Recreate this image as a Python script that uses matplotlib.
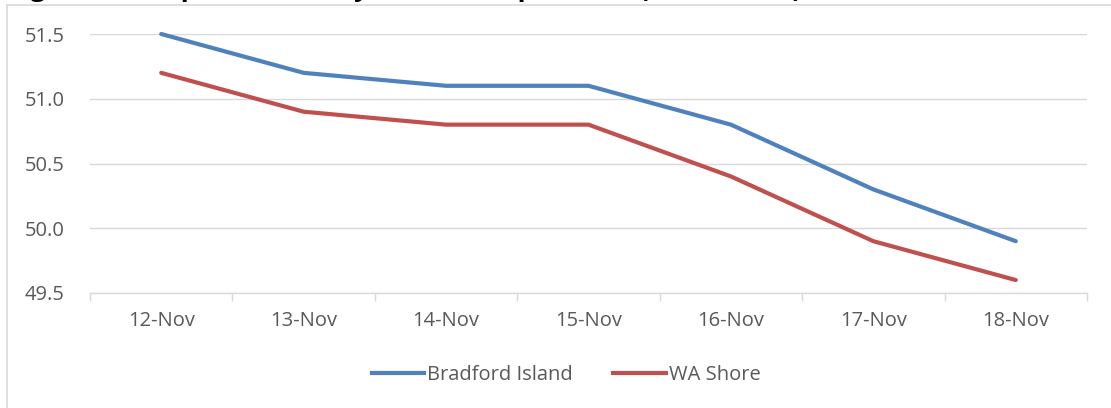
import matplotlib
matplotlib.use("Agg")
import matplotlib.pyplot as plt
from matplotlib.lines import Line2D

categories = ["12-Nov", "13-Nov", "14-Nov", "15-Nov", "16-Nov", "17-Nov", "18-Nov"]
bradford = [51.5, 51.2, 51.1, 51.1, 50.8, 50.3, 49.9]
wa_shore = [51.2, 50.9, 50.8, 50.8, 50.4, 49.9, 49.6]
series_names = ["Bradford Island", "WA Shore"]
yticks = [49.5, 50.0, 50.5, 51.0, 51.5]
title = "Figure 5: Temperature Daily Water Temperature (Fahrenheit)"

W, H = 1111, 408
fig = plt.figure(figsize=(W / 100, H / 100), dpi=100)
fnt = "Open Sans"
txtc = "#595959"
gridc = "#D9D9D9"

ax = fig.add_axes([90 / W, 1 - 293 / H, (1087 - 90) / W, (293 - 34) / H])
x = list(range(len(categories)))
ax.plot(x, bradford, color="#4F81BD", lw=3.0, solid_capstyle="round", clip_on=False, zorder=3)
ax.plot(x, wa_shore, color="#C0504D", lw=3.0, solid_capstyle="round", clip_on=False, zorder=3)

ax.set_xlim(-0.5, len(categories) - 0.5)
ax.set_ylim(49.5, 51.5)
ax.set_yticks(yticks)
ax.set_yticklabels([f"{v:.1f}" for v in yticks], fontfamily=fnt, fontsize=14.5, color=txtc)
ax.yaxis.grid(True, color=gridc, lw=1)
ax.set_axisbelow(True)
ax.tick_params(axis="y", length=0, pad=18.5)

ax.set_xticks([i - 0.5 for i in range(len(categories) + 1)])
ax.set_xticklabels([])
ax.set_xticks(x, minor=True)
ax.set_xticklabels(categories, minor=True, fontfamily=fnt, fontsize=14.5, color=txtc)
ax.tick_params(axis="x", which="major", length=6, color=gridc, width=1)
ax.tick_params(axis="x", which="minor", length=0, pad=13)

for s in ["top", "right", "left"]:
    ax.spines[s].set_visible(False)
ax.spines["bottom"].set_color(gridc)
ax.spines["bottom"].set_linewidth(1)

handles = [Line2D([], [], color="#4F81BD", lw=3.0),
           Line2D([], [], color="#C0504D", lw=3.0)]
fig.legend(handles, series_names, loc="center", bbox_to_anchor=(566 / W, 1 - 375 / H),
           ncol=2, frameon=False, prop={"family": fnt, "size": 14.5},
           labelcolor=txtc, handlelength=2.6, handletextpad=0.15, columnspacing=2.0)

# chart border (partially visible)
fig.add_artist(Line2D([7 / W, 7 / W], [0, 1 - 5 / H], color=gridc, lw=1.2, transform=fig.transFigure))
fig.add_artist(Line2D([7 / W, 1], [1 - 5 / H, 1 - 5 / H], color=gridc, lw=1.2, transform=fig.transFigure))

# title mostly cut off above the image
fig.text(8 / W, 1 + 4 / H, title, fontfamily=fnt, fontweight="bold", fontsize=19,
         color="black", va="baseline", ha="left")

fig.savefig("out.png", dpi=100)
